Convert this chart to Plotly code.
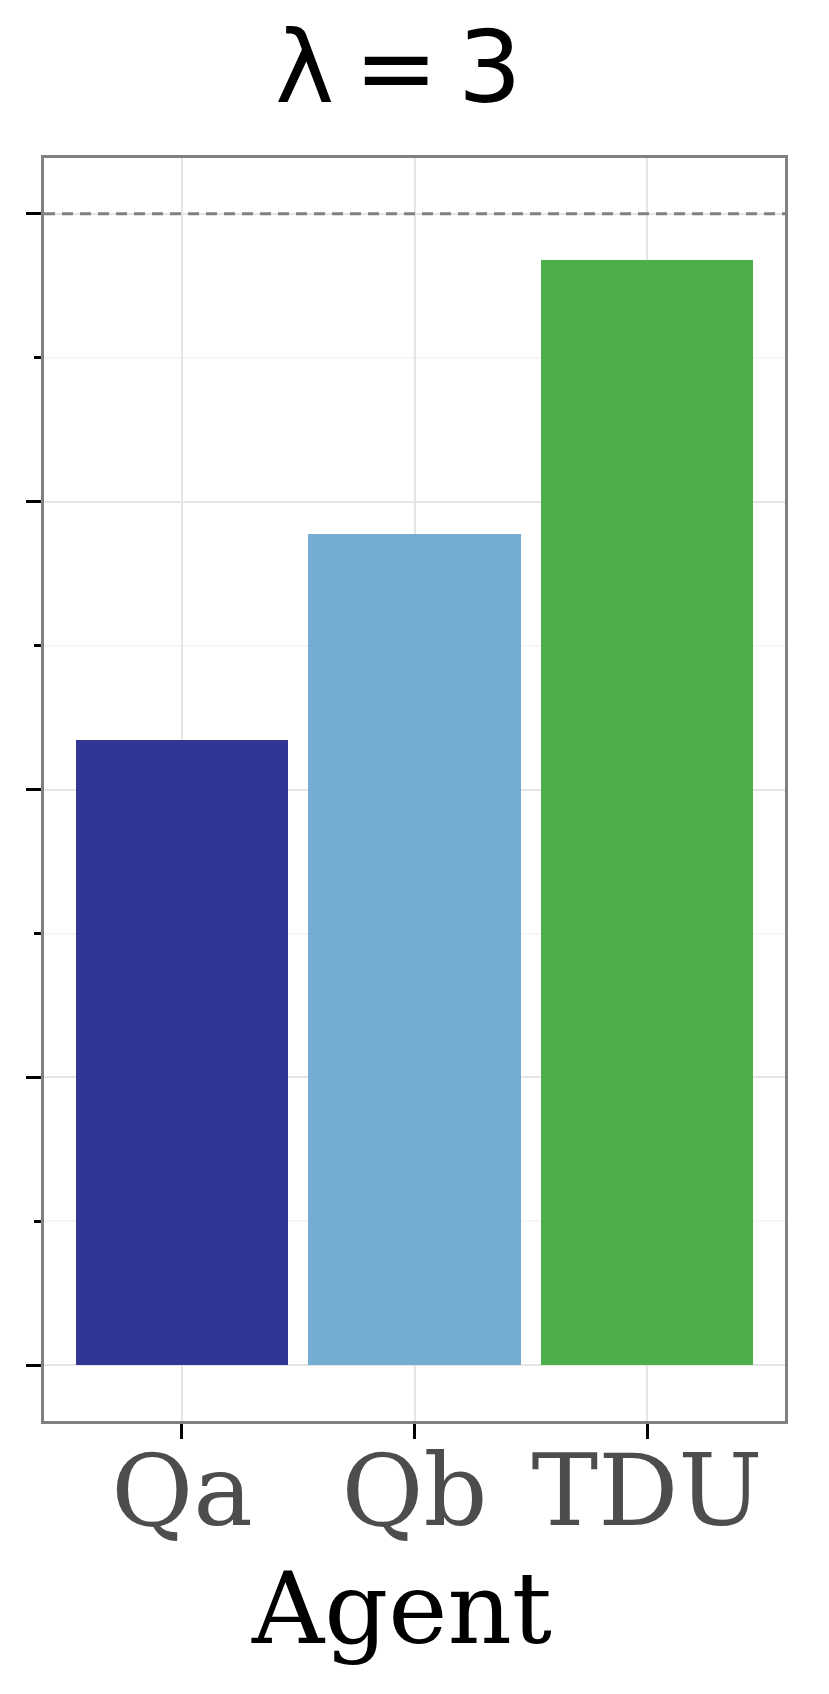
import plotly.graph_objects as go

agents = ["Qa", "Qb", "TDU"]
scores = [0.543, 0.7215, 0.9595]
bar_colors = ["#313695", "#74add1", "#4daf4a"]
title_text = "λ\u2009=\u20093"
x_title = "Agent"
ref_level = 1.0
y_ticks_major = [0.0, 0.25, 0.5, 0.75, 1.0]

W, H = 829, 1694
L, R, T, B = 44.2, 43.8, 157.5, 272.8

fig = go.Figure()
fig.add_trace(go.Bar(
    x=agents, y=scores, width=0.914,
    marker=dict(color=bar_colors, line=dict(width=0)),
    showlegend=False,
))

fig.add_shape(type="line", xref="paper", x0=0, x1=1, yref="y", y0=ref_level, y1=ref_level,
              line=dict(color="#808080", width=3, dash="11px,7px"), layer="above")

fig.add_annotation(text=title_text, xref="paper", yref="paper", x=0.479, y=1.0716,
                   xanchor="center", yanchor="middle", showarrow=False,
                   font=dict(family="DejaVu Sans", size=100, color="black"))

fig.add_annotation(text=x_title, xref="paper", yref="paper", x=0.4822, y=-0.1486,
                   xanchor="center", yanchor="middle", showarrow=False,
                   font=dict(family="DejaVu Serif", size=100, color="black"))

fig.update_layout(
    width=W, height=H,
    margin=dict(l=L, r=R, t=T, b=B, pad=0),
    paper_bgcolor="white", plot_bgcolor="white",
    bargap=0,
)
fig.update_xaxes(
    range=[-0.5935, 2.5935],
    showline=True, linecolor="#808080", linewidth=3, mirror=True,
    showgrid=True, gridcolor="#e5e5e5", gridwidth=2,
    ticks="outside", ticklen=15, tickwidth=3, tickcolor="black",
    ticklabelstandoff=-34,
    tickfont=dict(family="DejaVu Serif", size=100, color="#4d4d4d"),
)
fig.update_yaxes(
    range=[-0.0483, 1.0484],
    tickvals=y_ticks_major, showticklabels=False,
    showline=True, linecolor="#808080", linewidth=3, mirror=True,
    showgrid=True, gridcolor="#e5e5e5", gridwidth=2, zeroline=False,
    ticks="outside", ticklen=15, tickwidth=3, tickcolor="black",
    minor=dict(dtick=0.125, tick0=0, ticks="outside", ticklen=7, tickwidth=2.5, tickcolor="black",
               showgrid=True, gridcolor="#f6f6f6", gridwidth=2),
)
fig.write_html("out.html", config={"displayModeBar": False},
               post_script="document.body.style.margin='0';")
